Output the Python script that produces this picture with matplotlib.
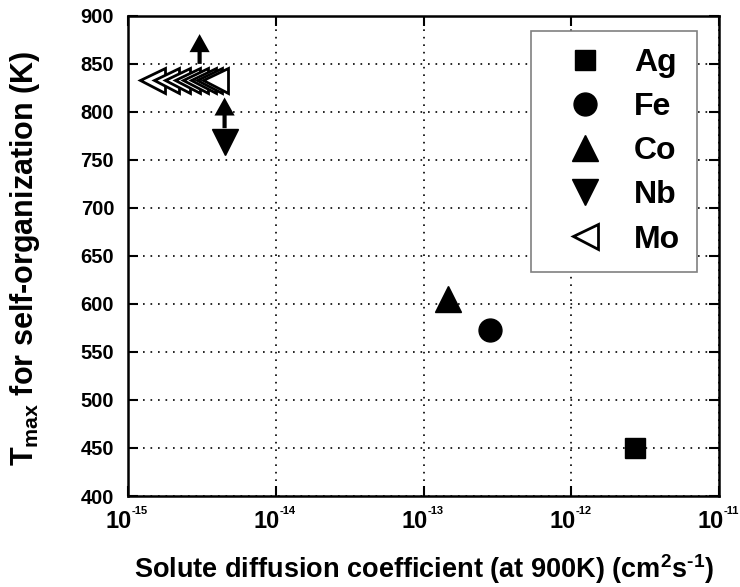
import numpy as np
import matplotlib
matplotlib.use("Agg")
import matplotlib.pyplot as plt

plt.rcParams['font.family'] = ['Liberation Sans', 'DejaVu Sans']
plt.rcParams['font.weight'] = 'bold'
plt.rcParams['axes.labelweight'] = 'bold'
plt.rcParams['mathtext.fontset'] = 'custom'
plt.rcParams['mathtext.rm'] = 'Liberation Sans:bold'
plt.rcParams['mathtext.bf'] = 'Liberation Sans:bold'
plt.rcParams['mathtext.it'] = 'Liberation Sans:bold'

# data (D in cm^2/s, T in K)
ag_D, ag_T = [2.7e-12], [450]
fe_D, fe_T = [2.8e-13], [573]
co_D, co_T = [1.45e-13], [605]
nb_D, nb_T = [4.5e-15], [769]
mo_D = [1.45e-15, 1.8e-15, 2.15e-15, 2.5e-15, 2.85e-15, 3.2e-15, 3.55e-15, 3.9e-15]
mo_T = [833] * len(mo_D)

# lower-bound arrows: (D, T_from, T_to)
co_arrow = (3.05e-15, 850, 881)
nb_arrow = (4.5e-15, 783, 815)

x_ticks = [1e-15, 1e-14, 1e-13, 1e-12, 1e-11]
x_exponents = ['-15', '-14', '-13', '-12', '-11']
y_ticks = list(range(400, 901, 50))

fig = plt.figure(figsize=(7.4, 5.87), dpi=100)
ax = fig.add_axes([0.173, 0.155, 0.799, 0.818])

ax.plot(ag_D, ag_T, 's', color='k', ms=14.5, ls='none', label='Ag')
ax.plot(fe_D, fe_T, 'o', color='k', ms=16.5, ls='none', label='Fe')
ax.plot(co_D, co_T, '^', color='k', ms=18.5, ls='none', label='Co')
ax.plot(nb_D, nb_T, 'v', color='k', ms=18.5, ls='none', label='Nb')
ax.plot(mo_D, mo_T, '<', color='k', mfc='white', mew=2, ms=18, ls='none', label='Mo')

for x, t0, t1 in [co_arrow, nb_arrow]:
    ax.annotate('', xy=(x, t1), xytext=(x, t0),
                arrowprops=dict(arrowstyle='simple,head_length=1.3,head_width=1.45,tail_width=0.3',
                                mutation_scale=10, color='k', lw=0, shrinkA=0, shrinkB=0))

ax.set_xscale('log')
ax.set_xlim(1e-15, 1e-11)
ax.set_ylim(400, 900)
ax.set_xticks(x_ticks)
ax.set_xticklabels([''] * len(x_ticks))
ax.set_yticks(y_ticks)
ax.minorticks_off()
ax.tick_params(direction='in', length=7, width=1.5, top=True, right=True)
ax.tick_params(axis='y', labelsize=14.5, pad=10)
for s in ax.spines.values():
    s.set_linewidth(1.8)
ax.grid(True, color='k', ls=(0, (1, 3.5)), lw=1.2)

# x tick labels: big "10" with a small exponent
for t, e in zip(x_ticks, x_exponents):
    ax.annotate('10', xy=(t, 0), xycoords=('data', 'axes fraction'),
                xytext=(-9, -32), textcoords='offset pixels',
                ha='center', va='baseline', fontsize=17, fontweight='bold',
                annotation_clip=False)
    ax.annotate(e, xy=(t, 0), xycoords=('data', 'axes fraction'),
                xytext=(4, -18), textcoords='offset pixels',
                ha='left', va='baseline', fontsize=8, fontweight='bold',
                annotation_clip=False)

ax.set_xlabel(r'Solute diffusion coefficient (at 900K) (cm$^2$s$^{\text{-1}}$)',
              fontsize=19.5, fontweight='bold')
ax.xaxis.set_label_coords(0.5, -0.118)
ax.set_ylabel(r'T$_{\text{max}}$ for self-organization (K)',
              fontsize=22, fontweight='bold')
ax.yaxis.set_label_coords(-0.1455, 0.495)

leg = ax.legend(loc='upper right', bbox_to_anchor=(0.963, 0.969), fontsize=23,
                frameon=True, fancybox=False, edgecolor='gray', framealpha=1,
                handletextpad=0.38, labelspacing=0.44, borderpad=0.55,
                handlelength=2.27, borderaxespad=0)
leg.get_frame().set_linewidth(1.2)

fig.savefig('out.png', dpi=100)
